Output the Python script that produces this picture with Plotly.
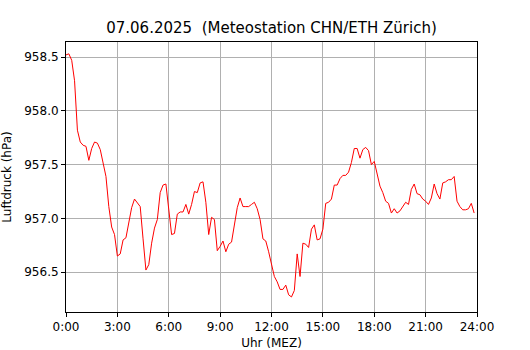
import plotly.graph_objects as go

# pressure values every 10 minutes, 0:00 .. 23:50 (hPa)
pressure = [
    958.52, 958.53, 958.47, 958.28, 957.82, 957.71, 957.68, 957.67, 957.54, 957.65,
    957.71, 957.70, 957.64, 957.52, 957.39, 957.11, 956.92, 956.85, 956.65, 956.67,
    956.80, 956.82, 956.96, 957.10, 957.18, 957.15, 957.11, 956.81, 956.52, 956.57,
    956.77, 956.91, 956.99, 957.24, 957.31, 957.32, 957.05, 956.85, 956.86, 957.04,
    957.06, 957.06, 957.13, 957.04, 957.13, 957.25, 957.24, 957.33, 957.34, 957.15,
    956.85, 957.01, 956.99, 956.70, 956.74, 956.79, 956.69, 956.76, 956.78, 956.93,
    957.10, 957.19, 957.11, 957.11, 957.11, 957.13, 957.15, 957.09, 956.99, 956.81,
    956.79, 956.69, 956.58, 956.46, 956.41, 956.34, 956.34, 956.38, 956.29, 956.27,
    956.33, 956.67, 956.46, 956.77, 956.76, 956.73, 956.90, 956.94, 956.80, 956.81,
    956.90, 957.14, 957.15, 957.18, 957.31, 957.31, 957.37, 957.40, 957.40, 957.43,
    957.52, 957.65, 957.65, 957.56, 957.64, 957.66, 957.63, 957.50, 957.53, 957.42,
    957.30, 957.24, 957.16, 957.14, 957.05, 957.09, 957.05, 957.07, 957.11, 957.15,
    957.13, 957.27, 957.32, 957.23, 957.22, 957.18, 957.16, 957.13, 957.19, 957.32,
    957.23, 957.18, 957.33, 957.34, 957.36, 957.36, 957.39, 957.16, 957.11, 957.08,
    957.08, 957.09, 957.14, 957.05,
]
hours = [i / 6 for i in range(len(pressure))]

x_tick_vals = [0, 3, 6, 9, 12, 15, 18, 21, 24]
x_tick_text = ["0:00", "3:00", "6:00", "9:00", "12:00", "15:00", "18:00", "21:00", "24:00"]
y_tick_vals = [956.5, 957.0, 957.5, 958.0, 958.5]

title_text = "07.06.2025  (Meteostation CHN/ETH Zürich)"

font_family = "DejaVu Sans"

fig = go.Figure()
fig.add_trace(go.Scatter(x=hours, y=pressure, mode="lines",
                         line=dict(color="#ff0000", width=1), hoverinfo="skip"))

axis_common = dict(
    showline=True, linecolor="black", linewidth=1, mirror=True,
    ticks="outside", ticklen=4, tickcolor="black", tickwidth=1,
    showgrid=True, gridcolor="#b0b0b0", gridwidth=1, zeroline=False,
    automargin=False,
    tickfont=dict(family=font_family, size=12, color="black"),
)

fig.update_layout(
    width=530, height=350,
    margin=dict(l=66, r=53, t=42, b=38),
    paper_bgcolor="white", plot_bgcolor="white",
    showlegend=False,
    font=dict(family=font_family, color="black"),
    title=dict(text=title_text, x=0.5, xref="paper", y=1 - 28 / 350, yref="container",
               yanchor="middle", xanchor="center",
               font=dict(family=font_family, size=15, color="black")),
    xaxis=dict(range=[0, 24], tickvals=x_tick_vals, ticktext=x_tick_text,
               title=dict(text="Uhr (MEZ)", font=dict(family=font_family, size=12), standoff=7),
               **axis_common),
    yaxis=dict(range=[956.13, 958.64], tickvals=y_tick_vals, tickformat=".1f",
               title=dict(text="Luftdruck (hPa)", font=dict(family=font_family, size=12), standoff=10),
               **axis_common),
)

fig.write_html("out.html",
               config={"displayModeBar": False, "staticPlot": True},
               post_script="document.body.style.margin='0';document.body.style.overflow='hidden';")
